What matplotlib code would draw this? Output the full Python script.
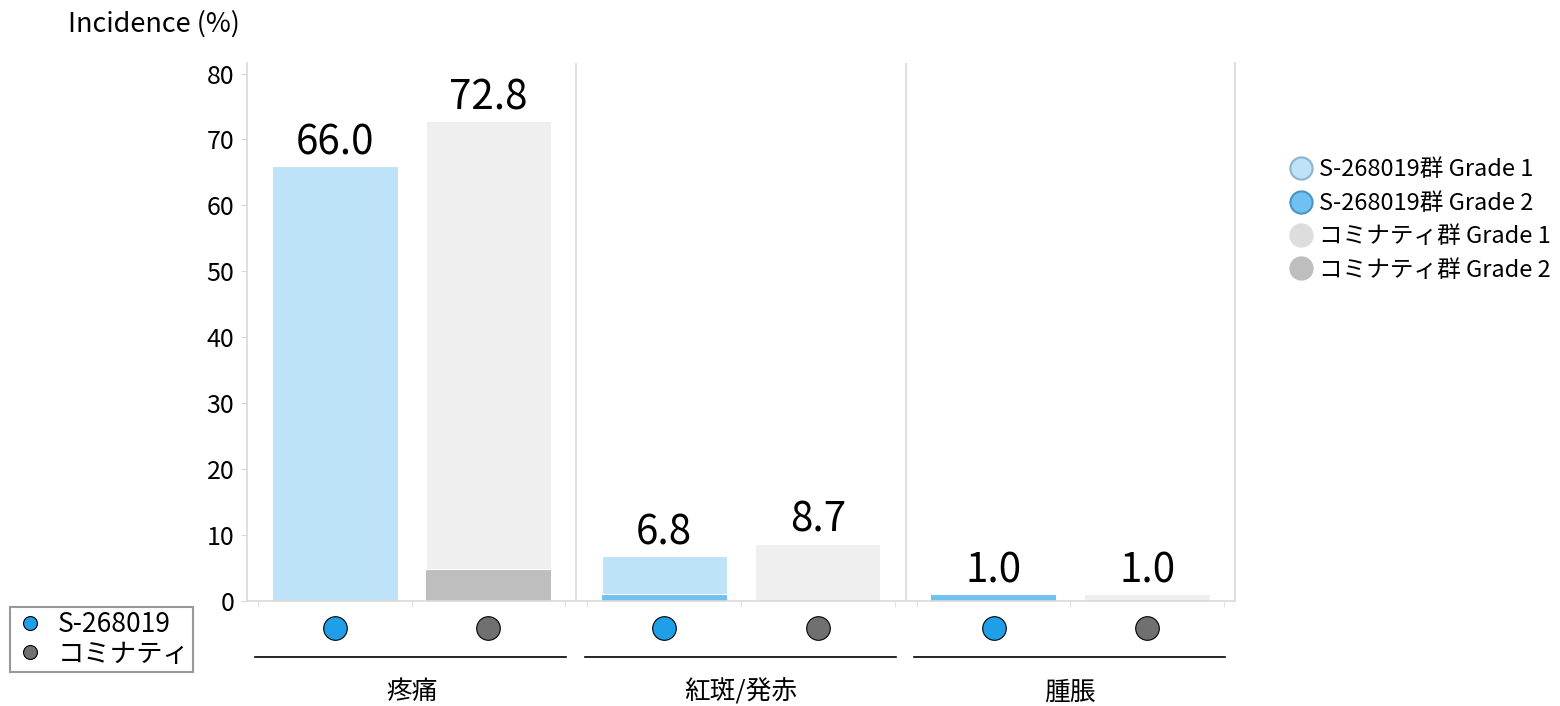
import matplotlib
matplotlib.use("Agg")
import matplotlib.pyplot as plt
import matplotlib.transforms as mtransforms
from matplotlib.lines import Line2D

plt.rcParams['font.family'] = ['Noto Sans CJK JP', 'DejaVu Sans']

# ---- data ----
categories = ["疼痛", "紅斑/発赤", "腫脹"]
groups = ["S-268019", "コミナティ"]
s_grade1 = [66.0, 5.8, 0.0]
s_grade2 = [0.0, 1.0, 1.0]
c_grade1 = [67.9, 8.7, 1.0]
c_grade2 = [4.9, 0.0, 0.0]
s_total_labels = ["66.0", "6.8", "1.0"]
c_total_labels = ["72.8", "8.7", "1.0"]
legend_labels = ["S-268019群 Grade 1", "S-268019群 Grade 2",
                 "コミナティ群 Grade 1", "コミナティ群 Grade 2"]
y_ticks = [0, 10, 20, 30, 40, 50, 60, 70, 80]

# ---- styles ----
col_s1 = "#BEE3F8"
col_s2 = "#6EC1F0"
col_c1 = "#EFEFEF"
col_c2 = "#BEBEBE"
dot_s = "#1E9FE8"
dot_c = "#707070"
grid_col = "#D9D9D9"

W, H = 1560, 706
fig = plt.figure(figsize=(W / 100, H / 100), dpi=100)
ax_l, ax_r = 247 / W, 1235 / W
ax_b, ax_t = (H - 601) / H, (H - 63) / H
ax = fig.add_axes([ax_l, ax_b, ax_r - ax_l, ax_t - ax_b])

n = len(categories)
bw = 0.38
off1, off2 = 0.267, 0.733
xs = [i + off1 for i in range(n)]
xc = [i + off2 for i in range(n)]

s_tot = [a + b for a, b in zip(s_grade1, s_grade2)]
c_tot = [a + b for a, b in zip(c_grade1, c_grade2)]

ax.bar(xs, s_grade2, bw, color=col_s2, linewidth=0, zorder=2)
ax.bar(xs, s_grade1, bw, bottom=s_grade2, color=col_s1, edgecolor="white",
       linewidth=0.8, zorder=2)
ax.bar(xc, c_grade2, bw, color=col_c2, linewidth=0, zorder=2)
ax.bar(xc, c_grade1, bw, bottom=c_grade2, color=col_c1, edgecolor="white",
       linewidth=0.8, zorder=2)

for x, t, lab in list(zip(xs, s_tot, s_total_labels)) + list(zip(xc, c_tot, c_total_labels)):
    ax.annotate(lab, (x, t), xytext=(0, 2), textcoords="offset points",
                ha="center", va="bottom", fontsize=29, color="black")

ax.set_xlim(0, n)
ax.set_ylim(0, 81.6)
ax.set_yticks(y_ticks)
ax.set_yticklabels([str(v) for v in y_ticks], fontsize=18)
ax.tick_params(axis="y", length=4, color=grid_col, pad=5)
ax.set_xticks([])
minor = []
for i in range(n):
    minor += [i + 0.033, i + 0.5, i + 0.967]
ax.set_xticks(minor, minor=True)
ax.tick_params(axis="x", which="minor", length=4, color=grid_col, labelbottom=False)

for sp in ["left", "right", "bottom"]:
    ax.spines[sp].set_color(grid_col)
    ax.spines[sp].set_linewidth(1.2)
ax.spines["top"].set_visible(False)
for i in range(1, n):
    ax.axvline(i, color=grid_col, linewidth=1.2, zorder=1)

# below-axis group markers, lines, category labels
trans = mtransforms.blended_transform_factory(ax.transData, ax.transAxes)
for i in range(n):
    ax.plot([xs[i]], [-0.050], marker="o", markersize=17, color=dot_s,
            markeredgecolor="black", markeredgewidth=0.8, transform=trans, clip_on=False)
    ax.plot([xc[i]], [-0.050], marker="o", markersize=17, color=dot_c,
            markeredgecolor="black", markeredgewidth=0.8, transform=trans, clip_on=False)
    ax.plot([i + 0.025, i + 0.97], [-0.104, -0.104], color="black", linewidth=1.2,
            transform=trans, clip_on=False)
    ax.text(i + 0.5, -0.170, categories[i], transform=trans, ha="center", va="center",
            fontsize=18.5)

fig.text(68 / W, 1 - 24 / H, "Incidence (%)", ha="left", va="center", fontsize=19.5)

# right legend (grades)
handles_r = [
    Line2D([], [], linestyle="none", marker="o", markersize=16, markerfacecolor=col_s1,
           markeredgecolor="#8FB3CC", markeredgewidth=1.5),
    Line2D([], [], linestyle="none", marker="o", markersize=16, markerfacecolor=col_s2,
           markeredgecolor="#4B95C2", markeredgewidth=1.5),
    Line2D([], [], linestyle="none", marker="o", markersize=16, markerfacecolor="#DDDDDD",
           markeredgecolor="#DDDDDD", markeredgewidth=1.5),
    Line2D([], [], linestyle="none", marker="o", markersize=16, markerfacecolor=col_c2,
           markeredgecolor=col_c2, markeredgewidth=1.5),
]
fig.legend(handles_r, legend_labels, loc="upper left",
           bbox_to_anchor=(1280 / W, 1 - 149 / H), frameon=False, fontsize=17,
           handletextpad=0.25, labelspacing=0.44, borderaxespad=0, handlelength=1.0)

# left legend (groups)
handles_l = [
    Line2D([], [], linestyle="none", marker="o", markersize=10, markerfacecolor=dot_s,
           markeredgecolor="black", markeredgewidth=0.8),
    Line2D([], [], linestyle="none", marker="o", markersize=10, markerfacecolor=dot_c,
           markeredgecolor="black", markeredgewidth=0.8),
]
leg = fig.legend(handles_l, groups, loc="upper left",
                 bbox_to_anchor=(10 / W, 1 - 607 / H), frameon=True, fontsize=19,
                 handletextpad=0.45, labelspacing=0.1, borderaxespad=0, handlelength=1.2,
                 borderpad=0.15, fancybox=False)
leg.get_frame().set_edgecolor("#7F7F7F")
leg.get_frame().set_linewidth(1.5)

fig.savefig("out.png", dpi=100)
